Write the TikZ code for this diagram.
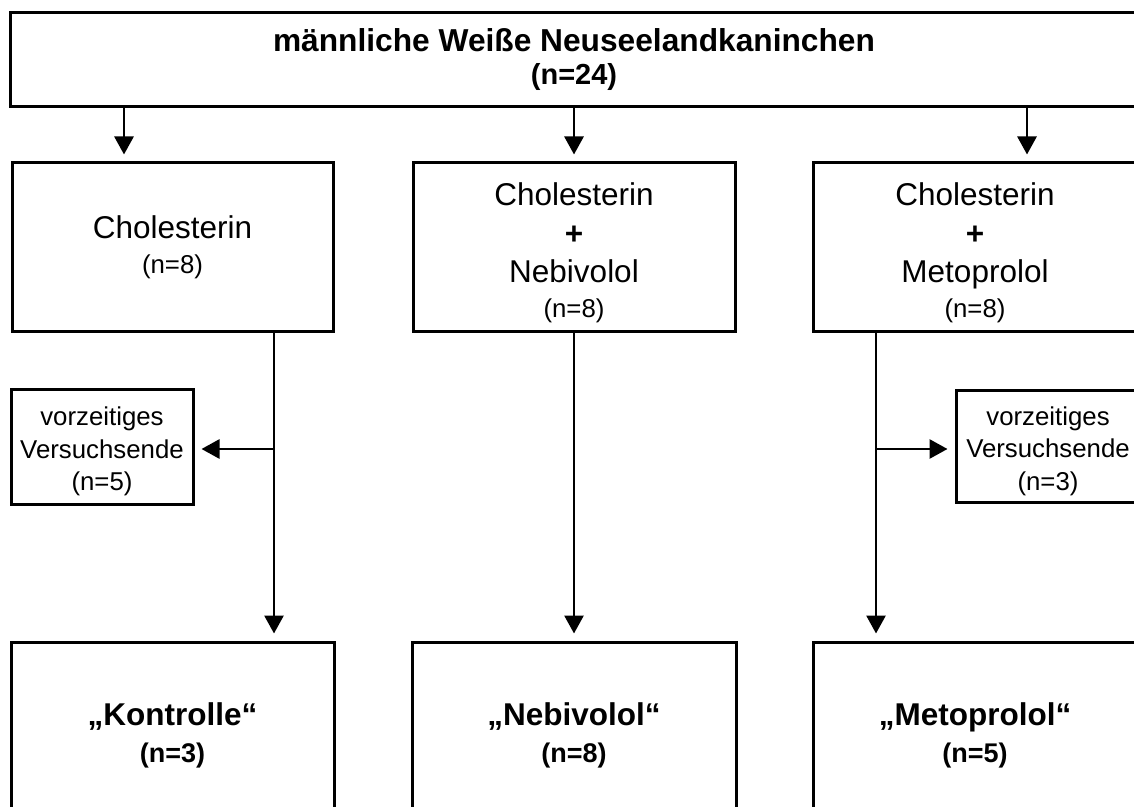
\documentclass[tikz,border=0pt]{standalone}
\usepackage{fontspec}
\setmainfont{Liberation Sans}
\usetikzlibrary{arrows.meta,positioning}

\begin{document}
\begin{tikzpicture}[x=0.5pt, y=-0.5pt,
  kasten/.style={draw, line width=1.5pt, inner sep=0pt, align=center},
  pfeil/.style={-{Triangle[length=9pt, width=9.5pt]}, line width=1.4pt, shorten >=3.5pt}]
  \useasboundingbox (0,0) rectangle (1134,807);
  \clip (0,0) rectangle (1134,807);
  % Ausgangsgruppe
  \node[kasten, minimum width=564pt, minimum height=47pt,
    font=\fontsize{15.85}{16.5}\selectfont\bfseries] (kaninchen) at (574,60)
    {männliche Weiße Neuseelandkaninchen\\{\fontsize{14.5}{16.5}\selectfont (n=24)}};
  % Behandlungsgruppen
  \node[kasten, minimum width=160.5pt, minimum height=84.5pt,
    font=\fontsize{15.75}{17.5}\selectfont] (chol) at (172.5,247.5)
    {Cholesterin\\{\fontsize{12.9}{17.5}\selectfont (n=8)}};
  \node[kasten, minimum width=161pt, minimum height=84.5pt,
    font=\fontsize{15.75}{19.25}\selectfont] (nebi) at (574,247.5)
    {\rule{0pt}{17pt}Cholesterin\\\textbf{+}\\Nebivolol\\[-1.75pt]{\fontsize{12.9}{17.5}\selectfont (n=8)}};
  \node[kasten, minimum width=162pt, minimum height=84.5pt,
    font=\fontsize{15.75}{19.25}\selectfont] (meto) at (975,247.5)
    {\rule{0pt}{17pt}Cholesterin\\\textbf{+}\\Metoprolol\\[-1.75pt]{\fontsize{12.9}{17.5}\selectfont (n=8)}};
  % Abbrueche
  \node[kasten, minimum width=91pt, minimum height=57.5pt,
    font=\fontsize{12.9}{16.25}\selectfont] (endeL) at (102,446.5)
    {\rule{0pt}{14.5pt}vorzeitiges\\Versuchsende\\(n=5)};
  \node[kasten, minimum width=92pt, minimum height=56pt,
    font=\fontsize{12.9}{16.25}\selectfont] (endeR) at (1048,446)
    {\rule{0pt}{14.5pt}vorzeitiges\\Versuchsende\\(n=3)};
  % Endgruppen
  \node[kasten, minimum width=161.5pt, minimum height=93pt,
    font=\fontsize{15.75}{18.5}\selectfont\bfseries] (kontrolle) at (172.5,735)
    {„Kontrolle“\\{\fontsize{13.5}{18.5}\selectfont (n=3)}};
  \node[kasten, minimum width=162pt, minimum height=93pt,
    font=\fontsize{15.75}{18.5}\selectfont\bfseries] (nebiend) at (574,735)
    {„Nebivolol“\\{\fontsize{13.5}{18.5}\selectfont (n=8)}};
  \node[kasten, minimum width=162pt, minimum height=93pt,
    font=\fontsize{15.75}{18.5}\selectfont\bfseries] (metoend) at (975,735)
    {„Metoprolol“\\{\fontsize{13.5}{18.5}\selectfont (n=5)}};
  % Verbindungen
  \coordinate (a1) at (124,0);
  \coordinate (a3) at (1027,0);
  \coordinate (v1) at (274,449);
  \coordinate (v3) at (876,449);
  \draw[pfeil] (kaninchen.south -| a1) -- (chol.north -| a1);
  \draw[pfeil] (kaninchen.south -| nebi) -- (nebi.north);
  \draw[pfeil] (kaninchen.south -| a3) -- (meto.north -| a3);
  \draw[pfeil] (chol.south -| v1) -- (kontrolle.north -| v1);
  \draw[pfeil] (nebi.south) -- (nebiend.north);
  \draw[pfeil] (meto.south -| v3) -- (metoend.north -| v3);
  \draw[pfeil] (v1) -- (endeL.east |- v1);
  \draw[pfeil] (v3) -- (endeR.west |- v3);
\end{tikzpicture}
\end{document}
